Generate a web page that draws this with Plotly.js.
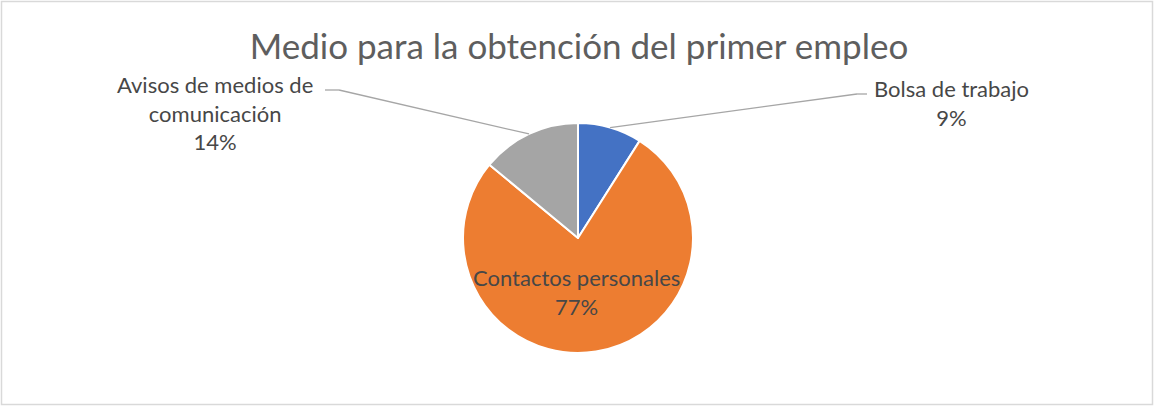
<!DOCTYPE html>
<html><head><meta charset="utf-8">
<script src="https://cdn.plot.ly/plotly-3.0.1.min.js"></script>
<style>html,body{margin:0;padding:0;background:#fff}</style>
</head><body>
<div id="chart" style="width:1154px;height:407px"></div>
<script>
const categories = ["Bolsa de trabajo", "Contactos personales", "Avisos de medios de<br>comunicación"];
const values = [9, 77, 14];
const colors = ["#4472C4", "#ED7D31", "#A5A5A5"];

const W = 1154, H = 407;
const px = x => x / W, py = y => 1 - y / H;
const cx = 578, cy = 238, R = 115;

const total = values.reduce((a, b) => a + b, 0);
const pctText = values.map(v => Math.round(v / total * 100) + "%");

// label anchor positions (layout)
const labelPos = [
  {x: 951, y: 103},
  {x: 576, y: 292},
  {x: 215, y: 113}
];
// leader line elbow points (layout); null = no leader
const elbows = [
  {x1: 857, y1: 94, x2: 867, y2: 94},
  null,
  {x1: 339, y1: 90, x2: 325, y2: 90}
];

const shapes = [{
  type: 'rect', xref: 'paper', yref: 'paper',
  x0: px(1.5), x1: px(1152.5), y0: py(1.5), y1: py(404.5),
  line: {color: '#D9D9D9', width: 1.5}
}];
let cum = 0;
values.forEach((v, i) => {
  const mid = (cum + v / 2) / total;
  cum += v;
  const e = elbows[i];
  if (!e) return;
  const a = mid * 2 * Math.PI;
  const sx = cx + R * Math.sin(a), sy = cy - R * Math.cos(a);
  shapes.push({type: 'line', xref: 'paper', yref: 'paper',
    x0: px(sx), y0: py(sy), x1: px(e.x1), y1: py(e.y1),
    line: {color: '#A6A6A6', width: 1.3}});
  shapes.push({type: 'line', xref: 'paper', yref: 'paper',
    x0: px(e.x1), y0: py(e.y1), x1: px(e.x2), y1: py(e.y2),
    line: {color: '#A6A6A6', width: 1.3}});
});

const annotations = categories.map((c, i) => ({
  xref: 'paper', yref: 'paper', x: px(labelPos[i].x), y: py(labelPos[i].y),
  xanchor: 'center', yanchor: 'middle', showarrow: false, align: 'center',
  text: c + "<br>" + pctText[i],
  font: {family: 'Lato, sans-serif', size: 22, color: '#474747'}
}));

const trace = {
  type: 'pie', labels: categories, values: values, sort: false,
  direction: 'clockwise', rotation: 0,
  marker: {colors: colors, line: {color: '#FFFFFF', width: 2}},
  textinfo: 'none', hoverinfo: 'label+percent', showlegend: false,
  domain: {x: [px(cx - R), px(cx + R)], y: [py(cy + R), py(cy - R)]}
};

const layout = {
  width: W, height: H,
  margin: {l: 0, r: 0, t: 0, b: 0},
  paper_bgcolor: '#FFFFFF',
  title: {text: 'Medio para la obtención del primer empleo',
    x: px(579), xanchor: 'center', y: py(47), yanchor: 'middle', yref: 'container',
    font: {family: 'Lato, sans-serif', size: 35, color: '#5E5E5E'}},
  shapes: shapes, annotations: annotations
};

Plotly.newPlot('chart', [trace], layout, {displayModeBar: false, staticPlot: true});
</script>
</body></html>
